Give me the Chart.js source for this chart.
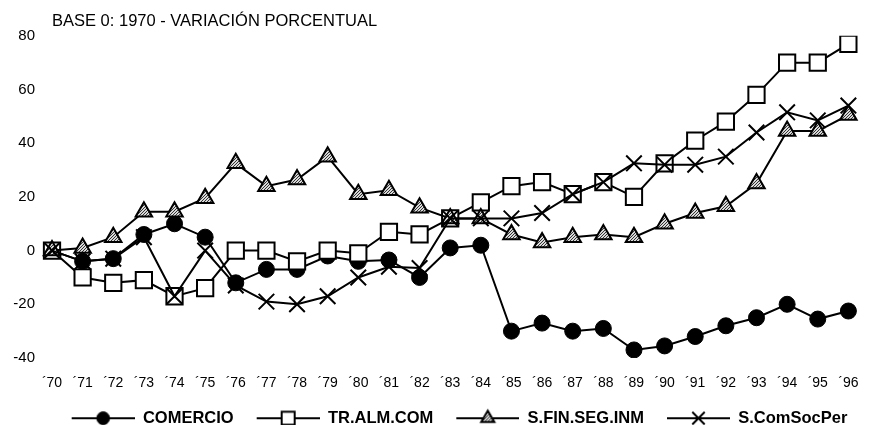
<!DOCTYPE html>
<html>
<head>
<meta charset="utf-8">
<script src="https://cdn.jsdelivr.net/npm/chart.js@4.4.1/dist/chart.umd.min.js"></script>
<style>
  html, body { margin: 0; padding: 0; background: #fff; }
  #wrap { width: 875px; height: 425px; }
</style>
</head>
<body>
<div id="wrap"><canvas id="chart" width="875" height="425"></canvas></div>
<script>
// Datos (base 0: 1970)
const years = ['´70', '´71', '´72', '´73', '´74', '´75', '´76', '´77', '´78', '´79', '´80', '´81', '´82',
  '´83', '´84', '´85', '´86', '´87', '´88', '´89', '´90', '´91', '´92', '´93', '´94', '´95', '´96'];

const comercio = [0, -4, -3, 6, 10, 5, -12, -7, -7, -2, -4, -3.5, -10,
  1, 2, -30, -27, -30, -29, -37, -35.5, -32, -28, -25, -20, -25.5, -22.5];
const trAlmCom = [0, -10, -12, -11, -17, -14, 0, 0, -4, 0, -1, 7, 6,
  12, 18, 24, 25.5, 21, 25.5, 20, 32.5, 41, 48, 58, 70, 70, 77];
const sFinSegInm = [0, 1, 5, 14.5, 14.5, 19.5, 32.5, 24, 26.5, 35, 21, 22.5, 16,
  12, 12, 6, 3, 5, 6, 5, 10, 14, 16.5, 25, 44.5, 44.5, 50.5];
const sComSocPer = [0, -4, -3, 5, -17, 0, -13, -19, -20, -17, -10, -6, -6.5,
  12, 12, 12, 14, 21, 25.5, 32.5, 32, 32, 35, 44, 51.5, 48.5, 54];

const yTicks = [-40, -20, 0, 20, 40, 60, 80];

// trama gris de los triángulos
function makePattern() {
  const c = document.createElement('canvas');
  c.width = 3; c.height = 3;
  const x = c.getContext('2d');
  x.fillStyle = '#d8d8d8';
  x.fillRect(0, 0, 3, 3);
  x.fillStyle = '#333';
  x.fillRect(0, 0, 1, 1);
  x.fillRect(2, 1, 1, 1);
  x.fillRect(1, 2, 1, 1);
  return x.createPattern(c, 'repeat');
}
const triFill = makePattern();

const seriesDefs = [
  { label: 'COMERCIO', data: comercio, pointStyle: 'circle', radius: 8, bg: '#000', bw: 1, order: 4 },
  { label: 'TR.ALM.COM', data: trAlmCom, pointStyle: 'rect', radius: 11.5, bg: '#fff', bw: 2, order: 3 },
  { label: 'S.FIN.SEG.INM', data: sFinSegInm, pointStyle: 'triangle', radius: 9.5, bg: triFill, bw: 2, order: 2 },
  { label: 'S.ComSocPer', data: sComSocPer, pointStyle: 'crossRot', radius: 11, bg: '#000', bw: 2, order: 1 }
];

// icono de leyenda: línea con el marcador en el centro (margen izquierdo transparente)
const ICON_MARGIN = 7;
const ICON_LINE = 63;
function legendIcon(def) {
  const c = document.createElement('canvas');
  c.width = ICON_MARGIN + ICON_LINE; c.height = 20;
  const ctx = c.getContext('2d');
  ctx.strokeStyle = '#000';
  ctx.lineWidth = 2;
  ctx.beginPath();
  ctx.moveTo(ICON_MARGIN, 10); ctx.lineTo(c.width, 10);
  ctx.stroke();
  ctx.fillStyle = def.bg;
  ctx.lineWidth = def.bw;
  Chart.helpers.drawPoint(ctx, {
    pointStyle: def.pointStyle, radius: def.radius * 0.8, rotation: 0, borderWidth: def.bw
  }, ICON_MARGIN + ICON_LINE / 2, 10);
  return c;
}

const datasets = seriesDefs.map(d => ({
  label: d.label,
  data: d.data,
  borderColor: '#000',
  borderWidth: 2,
  tension: 0,
  pointStyle: d.pointStyle,
  pointRadius: d.radius,
  pointHoverRadius: d.radius,
  pointBackgroundColor: d.bg,
  pointBorderColor: '#000',
  pointBorderWidth: d.bw,
  order: d.order,
  legendIcon: legendIcon(d)
}));

// desplaza un poco la leyenda a la derecha, como en el original
const legendShift = {
  id: 'legendShift',
  afterLayout(chart) {
    if (chart.legend) {
      chart.legend.left += 25;
      chart.legend.right += 25;
    }
  }
};

new Chart(document.getElementById('chart'), {
  type: 'line',
  data: { labels: years, datasets },
  plugins: [legendShift],
  options: {
    responsive: false,
    animation: false,
    events: [],
    layout: { padding: { left: 0, right: 13, top: 10, bottom: 0 } },
    scales: {
      x: {
        offset: false,
        grid: { display: false, drawTicks: false },
        border: { display: false },
        afterFit: s => { s.height = 36; },
        ticks: {
          autoSkip: false, maxRotation: 0, padding: 16.5,
          color: '#000', font: { family: 'Liberation Sans, Arial', size: 14 }
        }
      },
      y: {
        min: -40, max: 80,
        grid: { display: false, drawTicks: false },
        border: { display: false },
        afterBuildTicks: s => { s.ticks = yTicks.map(v => ({ value: v })); },
        afterFit: s => { s.width = 52; },
        ticks: {
          padding: 17,
          color: '#000', font: { family: 'Liberation Sans, Arial', size: 15 }
        }
      }
    },
    plugins: {
      title: {
        display: true,
        fullSize: false,
        align: 'start',
        text: 'BASE 0: 1970 - VARIACIÓN PORCENTUAL',
        color: '#000',
        font: { family: 'Liberation Sans, Arial', size: 16.5, weight: 'normal' },
        padding: { top: 2, bottom: 4 }
      },
      legend: {
        position: 'bottom',
        maxHeight: 31,
        labels: {
          usePointStyle: true,
          pointStyleWidth: ICON_MARGIN + ICON_LINE,
          padding: 16,
          color: '#000',
          font: { family: 'Liberation Sans, Arial', size: 16.5, weight: 'bold' },
          generateLabels: chart => chart.data.datasets.map((ds, i) => ({
            text: ds.label,
            pointStyle: ds.legendIcon,
            datasetIndex: i,
            lineWidth: 0,
            strokeStyle: 'transparent',
            fillStyle: 'transparent',
            fontColor: '#000'
          }))
        }
      },
      tooltip: { enabled: false }
    }
  }
});
</script>
</body>
</html>
